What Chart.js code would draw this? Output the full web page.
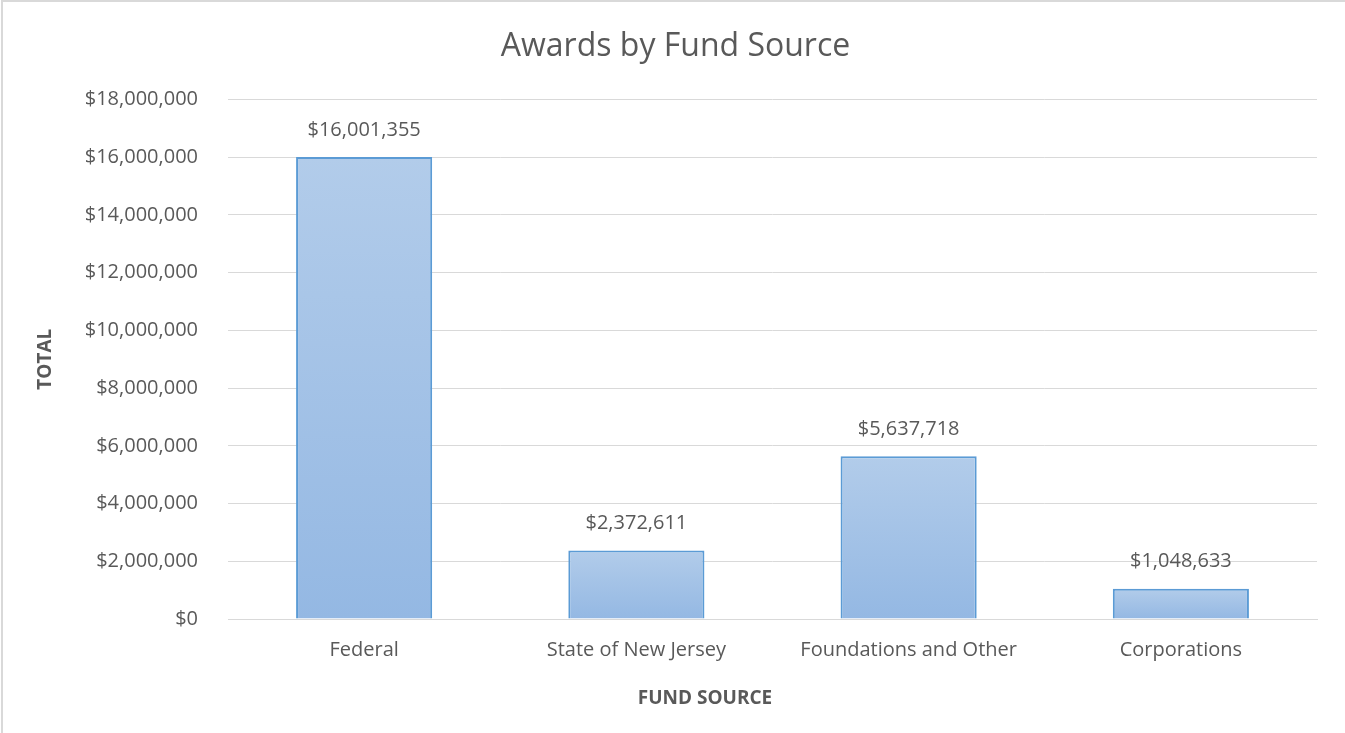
<!DOCTYPE html>
<html>
<head>
<meta charset="utf-8">
<script src="https://cdn.jsdelivr.net/npm/chart.js@4/dist/chart.umd.min.js"></script>
<style>
  html, body { margin: 0; padding: 0; background: #ffffff; }
  #wrap { width: 1345px; height: 733px; position: relative; }
</style>
</head>
<body>
<div id="wrap"><canvas id="c" width="1345" height="733"></canvas></div>
<script>
const categories = ["Federal", "State of New Jersey", "Foundations and Other", "Corporations"];
const totals = [16001355, 2372611, 5637718, 1048633];
const yTickMin = 0;
const yTickMax = 18000000;
const yTickStep = 2000000;
const xAxisTitle = "FUND SOURCE";
const yAxisTitle = "TOTAL";

const FONT = "'Open Sans', 'Liberation Sans', sans-serif";
const TEXT = "#595959";

function money(v) {
  return "$" + Math.round(v).toLocaleString("en-US");
}

const frame = {
  id: "frame",
  beforeDraw(chart) {
    const ctx = chart.ctx;
    ctx.save();
    ctx.fillStyle = "#ffffff";
    ctx.fillRect(0, 0, chart.width, chart.height);
    ctx.strokeStyle = "#D9D9D9";
    ctx.lineWidth = 2;
    ctx.beginPath();
    ctx.moveTo(2, chart.height);
    ctx.lineTo(2, 1);
    ctx.lineTo(chart.width, 1);
    ctx.stroke();
    ctx.restore();
  }
};

const valueLabels = {
  id: "valueLabels",
  afterDatasetsDraw(chart) {
    const ctx = chart.ctx;
    const meta = chart.getDatasetMeta(0);
    ctx.save();
    ctx.font = "20px " + FONT;
    ctx.fillStyle = TEXT;
    ctx.textAlign = "center";
    ctx.textBaseline = "middle";
    meta.data.forEach((bar, i) => {
      ctx.fillText(money(totals[i]), bar.x, bar.y - 27);
    });
    ctx.restore();
  }
};

const xTitle = {
  id: "xTitle",
  afterDraw(chart) {
    const ctx = chart.ctx;
    ctx.save();
    ctx.font = "bold 19px " + FONT;
    ctx.fillStyle = TEXT;
    ctx.textAlign = "center";
    ctx.textBaseline = "middle";
    ctx.fillText(xAxisTitle, 705, 699);
    ctx.restore();
  }
};

function barGradient(context) {
  const chart = context.chart;
  const yScale = chart.scales.y;
  if (!yScale || context.type !== "data") return "#A5C2E6";
  const v = context.parsed ? context.parsed.y : context.raw;
  const top = yScale.getPixelForValue(v);
  const bottom = yScale.getPixelForValue(0);
  if (!isFinite(top) || !isFinite(bottom) || top === bottom) return "#A5C2E6";
  const g = chart.ctx.createLinearGradient(0, top, 0, bottom);
  g.addColorStop(0, "#B2CCEA");
  g.addColorStop(1, "#94B8E3");
  return g;
}

new Chart(document.getElementById("c"), {
  type: "bar",
  data: {
    labels: categories,
    datasets: [{
      label: yAxisTitle,
      data: totals,
      backgroundColor: barGradient,
      borderColor: "#5B9BD5",
      borderWidth: 2,
      borderSkipped: "bottom",
      barPercentage: 0.5,
      categoryPercentage: 1.0
    }]
  },
  options: {
    responsive: false,
    animation: false,
    devicePixelRatio: 1,
    layout: { padding: { left: 34, right: 28, top: 0, bottom: 0 } },
    plugins: {
      legend: { display: false },
      tooltip: { enabled: false },
      title: {
        display: true,
        text: "Awards by Fund Source",
        color: TEXT,
        font: { family: FONT, size: 32, weight: "normal" },
        padding: { top: 28, bottom: 33 }
      }
    },
    scales: {
      x: {
        grid: { display: false, drawTicks: false },
        border: { display: true, color: "#D9D9D9", width: 1 },
        ticks: { color: TEXT, font: { family: FONT, size: 20 }, padding: 19 },
        title: { display: false },
        afterFit(scale) { scale.height = 114; }
      },
      y: {
        min: yTickMin,
        max: yTickMax,
        grid: { color: "#D9D9D9", drawTicks: false },
        border: { display: false },
        ticks: {
          stepSize: yTickStep,
          color: TEXT,
          font: { family: FONT, size: 20 },
          padding: 30,
          callback: (v) => money(v)
        },
        title: {
          display: true,
          text: yAxisTitle,
          color: TEXT,
          font: { family: FONT, size: 19, weight: "bold" },
          padding: { top: 0, bottom: 0 }
        },
        afterFit(scale) { scale.width = 194; }
      }
    }
  },
  plugins: [frame, valueLabels, xTitle]
});
</script>
</body>
</html>
